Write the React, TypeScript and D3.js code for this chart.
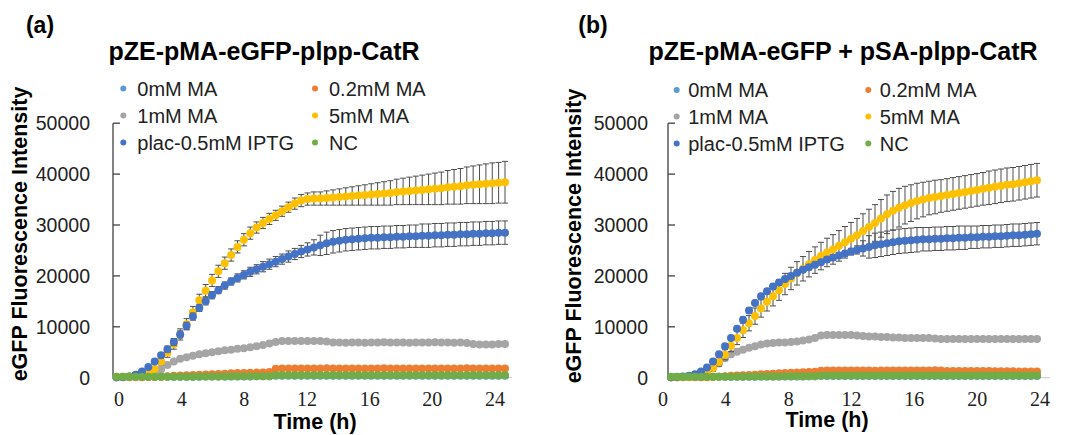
import React from "react";
import * as d3 from "d3";

// sampling times (h)
const times = [
  0, 0.4, 0.8, 1.2, 1.6, 2.0, 2.4, 2.8, 3.2, 3.6,
  4.0, 4.4, 4.8, 5.2, 5.6, 6.0, 6.4, 6.8, 7.2, 7.6,
  8.0, 8.4, 8.8, 9.2, 9.6, 10.0, 10.4, 10.8, 11.2, 11.6,
  12.0, 12.4, 12.8, 13.2, 13.6, 14.0, 14.4, 14.8, 15.2, 15.6,
  16.0, 16.4, 16.8, 17.2, 17.6, 18.0, 18.4, 18.8, 19.2, 19.6,
  20.0, 20.4, 20.8, 21.2, 21.6, 22.0, 22.4, 22.8, 23.2, 23.6,
  24.0, 24.4,
];

const seriesNames = ["0mM MA", "0.2mM MA", "1mM MA", "5mM MA", "plac-0.5mM IPTG", "NC"];
const seriesColors = ["#5B9BD5", "#ED7D31", "#A5A5A5", "#FFC000", "#4472C4", "#70AD47"];
const yTicks = [0, 10000, 20000, 30000, 40000, 50000];
const xTicks = [0, 4, 8, 12, 16, 20, 24];

// ---- panel (a) pZE-pMA-eGFP-plpp-CatR
const zeroA = [
  150, 150, 150, 150, 150, 200, 200, 200, 200, 200,
  200, 200, 200, 200, 250, 250, 250, 250, 250, 250,
  250, 250, 300, 300, 300, 400, 400, 400, 400, 400,
  400, 400, 400, 400, 400, 400, 400, 400, 400, 400,
  400, 400, 400, 400, 400, 400, 400, 400, 400, 400,
  400, 400, 400, 400, 400, 400, 400, 400, 400, 400,
  400, 400,
];
const orangeA = [
  100, 100, 100, 100, 100, 150, 150, 200, 300, 400,
  450, 500, 550, 600, 650, 700, 750, 800, 850, 900,
  900, 950, 1000, 1000, 1100, 1750, 1800, 1800, 1800, 1800,
  1800, 1800, 1800, 1850, 1800, 1800, 1800, 1800, 1800, 1800,
  1800, 1800, 1850, 1800, 1800, 1800, 1800, 1800, 1800, 1800,
  1800, 1800, 1800, 1800, 1800, 1850, 1800, 1800, 1800, 1800,
  1800, 1800,
];
const grayA = [
  100, 100, 150, 200, 300, 500, 900, 1600, 2500, 3200,
  3700, 4000, 4300, 4600, 4800, 5000, 5200, 5400, 5500, 5700,
  5800, 6000, 6200, 6400, 6700, 7000, 7200, 7200, 7200, 7200,
  7200, 7200, 7200, 7100, 6900, 6900, 6850, 6900, 6900, 6850,
  6900, 6900, 6950, 6900, 6900, 6900, 6850, 6900, 6900, 6900,
  6950, 6900, 6900, 6850, 6900, 6800, 6600, 6500, 6500, 6500,
  6600, 6600,
];
const yellowA = [
  200, 200, 250, 300, 450, 800, 1700, 3200, 4900, 6600,
  8500, 10500, 12800, 15200, 17100, 19100, 20900, 22500, 24100, 25700,
  27100, 28400, 29500, 30400, 31200, 31900, 32700, 33500, 34200, 34800,
  35100, 35200, 35200, 35300, 35400, 35500, 35600, 35700, 35800, 35900,
  36000, 36100, 36200, 36300, 36500, 36600, 36700, 36800, 36900, 37000,
  37100, 37200, 37400, 37500, 37600, 37800, 37900, 38000, 38100, 38200,
  38300, 38400,
];
const yellowErrA = [
  100, 100, 100, 150, 200, 300, 500, 700, 900, 1000,
  1100, 1100, 1200, 1200, 1200, 1200, 1200, 1200, 1200, 1200,
  1200, 1200, 1100, 1100, 1100, 1000, 1000, 1000, 1100, 1200,
  1200, 1300, 1300, 1400, 1500, 1600, 1700, 1800, 1900, 2000,
  2100, 2200, 2300, 2400, 2500, 2600, 2700, 2800, 2900, 3000,
  3100, 3200, 3300, 3400, 3500, 3600, 3700, 3800, 3900, 4000,
  4000, 4100,
];
const blueA = [
  100, 150, 250, 600, 1200, 2100, 3200, 4400, 5600, 7000,
  8500, 10200, 12000, 13700, 15000, 16200, 17200, 18100, 18900, 19600,
  20200, 20800, 21300, 21800, 22300, 22800, 23300, 23800, 24300, 24800,
  25200, 25600, 26000, 26400, 26700, 26900, 27100, 27200, 27300, 27400,
  27500, 27500, 27600, 27600, 27700, 27700, 27800, 27800, 27900, 27900,
  28000, 28000, 28100, 28100, 28200, 28200, 28300, 28300, 28400, 28400,
  28500, 28500,
];
const blueErrA = [
  100, 100, 100, 150, 200, 300, 400, 500, 600, 700,
  700, 700, 700, 700, 700, 700, 700, 700, 700, 800,
  800, 900, 900, 1000, 1000, 1000, 1000, 1100, 1100, 1200,
  1300, 1500, 2000, 2200, 2200, 2200, 2200, 2200, 2200, 2200,
  2200, 2200, 2200, 2200, 2200, 2200, 2200, 2200, 2300, 2300,
  2300, 2300, 2300, 2300, 2300, 2300, 2300, 2300, 2300, 2300,
  2300, 2300,
];
const greenA = [
  200, 200, 200, 200, 200, 200, 200, 200, 200, 200,
  200, 200, 200, 250, 250, 250, 250, 250, 300, 300,
  300, 300, 300, 300, 300, 500, 500, 500, 500, 500,
  500, 500, 500, 500, 500, 500, 500, 500, 500, 500,
  500, 500, 500, 500, 500, 500, 500, 500, 500, 500,
  500, 500, 500, 500, 500, 500, 500, 500, 500, 500,
  500, 500,
];

// ---- panel (b) pZE-pMA-eGFP + pSA-plpp-CatR
const zeroB = [
  150, 150, 150, 150, 150, 150, 200, 200, 200, 200,
  200, 200, 200, 200, 200, 250, 250, 250, 250, 250,
  250, 250, 250, 300, 300, 350, 350, 350, 350, 350,
  350, 350, 350, 350, 350, 350, 350, 350, 350, 350,
  350, 350, 350, 350, 350, 350, 350, 350, 350, 350,
  350, 350, 350, 350, 350, 350, 350, 350, 350, 350,
  350, 350,
];
const orangeB = [
  100, 100, 100, 100, 100, 100, 100, 150, 200, 300,
  400, 450, 500, 550, 600, 700, 750, 800, 850, 900,
  950, 1000, 1050, 1100, 1150, 1350, 1400, 1400, 1400, 1400,
  1400, 1400, 1400, 1400, 1350, 1400, 1400, 1400, 1400, 1400,
  1400, 1400, 1400, 1400, 1450, 1400, 1300, 1300, 1300, 1300,
  1300, 1300, 1300, 1300, 1250, 1250, 1250, 1250, 1200, 1200,
  1200, 1200,
];
const grayB = [
  100, 100, 150, 200, 250, 400, 1000, 1900, 2800, 3800,
  4600, 5100, 5500, 5900, 6200, 6500, 6700, 6800, 6900, 6900,
  7000, 7100, 7300, 7500, 7800, 8300, 8400, 8400, 8400, 8400,
  8400, 8300, 8200, 8100, 8100, 8000, 8000, 7900, 7900, 7800,
  7800, 7800, 7800, 7800, 7700, 7600, 7600, 7600, 7600, 7600,
  7600, 7600, 7600, 7600, 7600, 7600, 7600, 7600, 7600, 7600,
  7600, 7600,
];
const yellowB = [
  100, 100, 150, 200, 300, 500, 1000, 1900, 3100, 4500,
  6300, 7800, 9300, 10700, 12100, 13600, 14900, 16000, 17200, 18400,
  19500, 20500, 21400, 22300, 23100, 23900, 24600, 25200, 25900, 26600,
  27300, 28000, 28800, 29600, 30400, 31300, 32100, 32800, 33400, 33900,
  34300, 34700, 35000, 35300, 35500, 35700, 35900, 36100, 36300, 36500,
  36700, 36900, 37100, 37300, 37500, 37700, 37900, 38000, 38200, 38400,
  38600, 38800,
];
const yellowErrB = [
  100, 100, 100, 150, 200, 300, 400, 600, 800, 1000,
  1200, 1300, 1400, 1500, 1600, 1700, 1800, 1900, 2000, 2100,
  2200, 2300, 2400, 2500, 2600, 2700, 2800, 2900, 3000, 3100,
  3200, 3300, 3400, 3500, 3600, 3700, 3800, 3800, 3800, 3700,
  3600, 3500, 3400, 3300, 3300, 3200, 3200, 3200, 3200, 3200,
  3200, 3200, 3200, 3300, 3300, 3300, 3300, 3300, 3300, 3300,
  3300, 3300,
];
const blueB = [
  100, 150, 250, 400, 700, 1200, 2000, 3200, 4600, 6200,
  7800, 9600, 11400, 13200, 14700, 16000, 17000, 17900, 18700, 19400,
  20000, 20600, 21200, 21700, 22200, 22700, 23200, 23600, 24000, 24400,
  24800, 25100, 25400, 25700, 26000, 26200, 26400, 26600, 26800, 26900,
  27000, 27100, 27200, 27200, 27300, 27300, 27400, 27400, 27500, 27500,
  27600, 27600, 27700, 27700, 27800, 27800, 27900, 28000, 28000, 28100,
  28200, 28300,
];
const blueErrB = [
  100, 100, 100, 100, 150, 200, 300, 400, 400, 500,
  500, 500, 500, 500, 500, 500, 500, 500, 500, 500,
  500, 500, 500, 500, 500, 500, 500, 500, 500, 500,
  600, 800, 1500, 2200, 2400, 2400, 2400, 2400, 2400, 2400,
  2400, 2400, 2300, 2300, 2300, 2300, 2300, 2300, 2300, 2300,
  2200, 2200, 2200, 2200, 2200, 2200, 2200, 2200, 2200, 2200,
  2200, 2200,
];
const greenB = [
  200, 200, 200, 200, 200, 200, 200, 200, 200, 200,
  200, 200, 200, 250, 250, 250, 250, 250, 250, 300,
  300, 300, 300, 300, 300, 450, 450, 450, 450, 450,
  450, 450, 450, 450, 450, 450, 450, 450, 450, 450,
  450, 450, 450, 450, 450, 450, 450, 450, 450, 450,
  450, 450, 450, 450, 450, 450, 450, 450, 450, 450,
  450, 450,
];

const sans = "'Liberation Sans', Arial, sans-serif";
const serif = "'Liberation Serif', 'Times New Roman', serif";

const y = d3.scaleLinear().domain([0, 50000]).range([377.7, 123.2]);

const panels = [
  {
    tag: "(a)", tagX: 40, title: "pZE-pMA-eGFP-plpp-CatR", titleX: 264,
    axisX: 113, dataRange: [116.5, 505], labelRange: [119, 495], axisEnd: 512,
    tickLabelX: 90, yTitleX: 27, yTitleY: 234, xTitleX: 315, xTitleY: 429,
    legendX: [123.3, 315], legendDx: 14, legendRows: [88.5, 115.5, 142.5],
    series: [zeroA, orangeA, grayA, yellowA, blueA, greenA],
    errors: [null, null, null, yellowErrA, blueErrA, null],
  },
  {
    tag: "(b)", tagX: 593, title: "pZE-pMA-eGFP + pSA-plpp-CatR", titleX: 843,
    axisX: 668, dataRange: [671, 1037], labelRange: [663, 1040], axisEnd: 1050,
    tickLabelX: 648, yTitleX: 581, yTitleY: 236, xTitleX: 827, xTitleY: 427,
    legendX: [676.7, 868.3], legendDx: 11.5, legendRows: [90, 116.5, 143.5],
    series: [zeroB, orangeB, grayB, yellowB, blueB, greenB],
    errors: [null, null, null, yellowErrB, blueErrB, null],
  },
];

function Panel({ p }: { p: (typeof panels)[number] }) {
  const x = d3.scaleLinear().domain([0, d3.max(times) as number]).range(p.dataRange);
  // hour labels sit on their own scale (text boxes in the source figure)
  const xl = d3.scaleLinear().domain([0, 24]).range(p.labelRange);

  return (
    <g>
      <text x={p.tagX} y={33} textAnchor="middle" fontFamily={sans} fontWeight="bold" fontSize={23}>
        {p.tag}
      </text>
      <text x={p.titleX} y={60} textAnchor="middle" fontFamily={sans} fontWeight="bold" fontSize={25}>
        {p.title}
      </text>

      {/* legend */}
      {seriesNames.map((name, i) => {
        const cx = p.legendX[i % 2];
        const cy = p.legendRows[Math.floor(i / 2)];
        return (
          <g key={name}>
            <circle cx={cx} cy={cy} r={3} fill={seriesColors[i]} />
            <text x={cx + p.legendDx} y={cy + 7} fontFamily={sans} fontSize={20} fill="#222">
              {name}
            </text>
          </g>
        );
      })}

      {/* axes */}
      <line x1={p.axisX} x2={p.axisEnd} y1={y(0)} y2={y(0)} stroke="#c8c8c8" strokeWidth={1} />
      <line x1={p.axisX} x2={p.axisX} y1={y(0)} y2={y(50000)} stroke="#404040" strokeWidth={1.3} />
      {yTicks.map((t) => (
        <g key={t}>
          <line x1={p.axisX} x2={p.axisX + 7} y1={y(t)} y2={y(t)} stroke="#404040" strokeWidth={1.3} />
          <text x={p.tickLabelX} y={y(t)} dy="0.35em" textAnchor="end" fontFamily={sans} fontSize={19.5} fill="#222">
            {t}
          </text>
        </g>
      ))}
      {xTicks.map((t) => (
        <text key={t} x={xl(t)} y={405.5} textAnchor="middle" fontFamily={serif} fontSize={20} fill="#222">
          {t}
        </text>
      ))}
      <text x={p.xTitleX} y={p.xTitleY} textAnchor="middle" fontFamily={sans} fontWeight="bold" fontSize={21.5}>
        Time (h)
      </text>
      <text
        transform={`translate(${p.yTitleX},${p.yTitleY}) rotate(-90)`}
        textAnchor="middle"
        fontFamily={sans}
        fontWeight="bold"
        fontSize={21.5}
      >
        eGFP Fluorescence Intensity
      </text>

      {/* series */}
      {p.series.map((vals, si) => {
        const err = p.errors[si];
        return (
          <g key={si}>
            {err &&
              vals.map((v, i) => {
                const cx = x(times[i]);
                return (
                  <g key={i} stroke="#4d4d4d" strokeWidth={1}>
                    <line x1={cx} x2={cx} y1={y(v - err[i])} y2={y(v + err[i])} />
                    <line x1={cx - 3} x2={cx + 3} y1={y(v + err[i])} y2={y(v + err[i])} />
                    <line x1={cx - 3} x2={cx + 3} y1={y(v - err[i])} y2={y(v - err[i])} />
                  </g>
                );
              })}
            {vals.map((v, i) => (
              <circle key={i} cx={x(times[i])} cy={y(v)} r={4} fill={seriesColors[si]} />
            ))}
          </g>
        );
      })}
    </g>
  );
}

export default function App() {
  return (
    <svg
      width={1071}
      height={435}
      style={{ position: "absolute", left: 0, top: 0, background: "#fff" }}
    >
      {panels.map((p) => (
        <Panel key={p.tag} p={p} />
      ))}
    </svg>
  );
}
